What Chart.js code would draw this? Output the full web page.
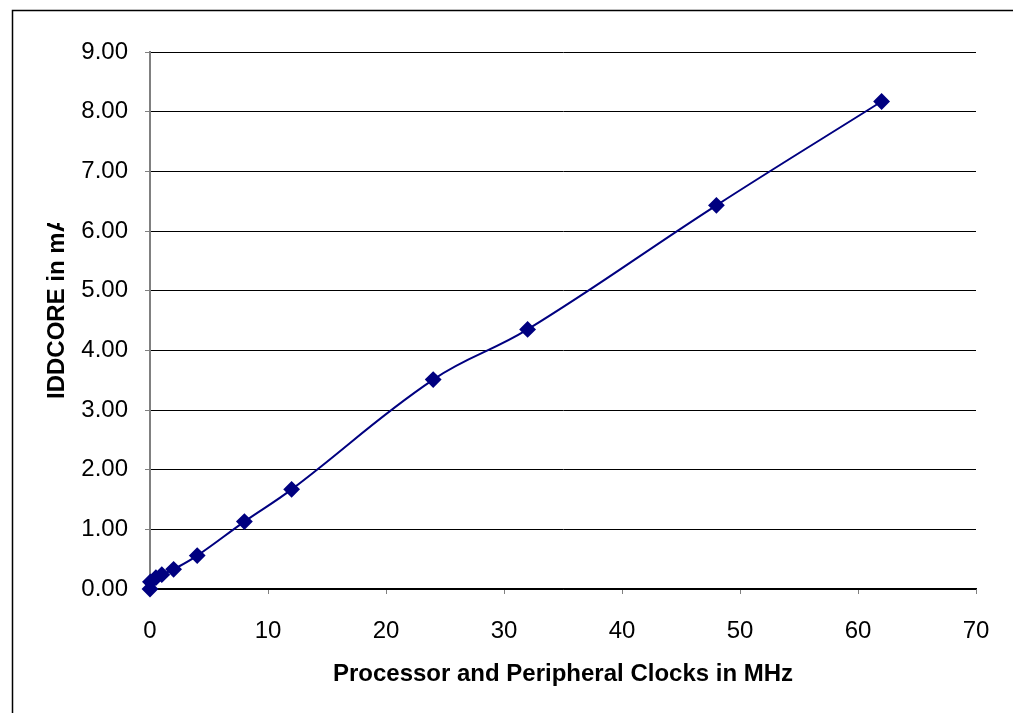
<!DOCTYPE html>
<html>
<head>
<meta charset="utf-8">
<script src="https://cdn.jsdelivr.net/npm/chart.js@4/dist/chart.umd.min.js"></script>
<style>
html,body{margin:0;padding:0;background:#fff;}
#wrap{width:1013px;height:713px;position:relative;}
</style>
</head>
<body>
<div id="wrap"><canvas id="c" width="1013" height="713"></canvas></div>
<script>
const clocksMHz = [0, 0.032, 0.5, 1, 2, 4, 8, 12, 24, 32, 48, 62];
const iddCoreMA = [0, 0.12, 0.19, 0.24, 0.33, 0.56, 1.13, 1.67, 3.51, 4.35, 6.43, 8.17];
const xTitle = 'Processor and Peripheral Clocks in MHz';
const yTitle = 'IDDCORE in mA';
const FONT = '"Liberation Sans", Arial, sans-serif';

const points = clocksMHz.map((x, i) => ({x: x, y: iddCoreMA[i]}));

const framePlugin = {
  id: 'frame',
  afterDraw(chart) {
    const ctx = chart.ctx;
    ctx.save();
    ctx.strokeStyle = '#000';
    ctx.lineWidth = 1.5;
    ctx.strokeRect(12.5, 10.5, 1200, 900);
    // y axis title, clipped at top like the reference
    ctx.beginPath();
    ctx.rect(0, 223, 120, 500);
    ctx.clip();
    ctx.translate(57, 307);
    ctx.rotate(-Math.PI / 2);
    ctx.font = 'bold 24px ' + FONT;
    ctx.fillStyle = '#000';
    ctx.textAlign = 'center';
    ctx.textBaseline = 'middle';
    ctx.fillText(yTitle, 0, 0);
    ctx.restore();
  }
};

new Chart(document.getElementById('c'), {
  type: 'scatter',
  data: {
    datasets: [{
      data: points,
      showLine: true,
      tension: 0.4,
      clip: false,
      borderColor: '#000080',
      backgroundColor: '#000080',
      borderWidth: 2,
      pointStyle: 'rectRot',
      pointRadius: 7,
      pointHoverRadius: 7
    }]
  },
  options: {
    responsive: false,
    animation: false,
    layout: {padding: {left: 0, top: 52, right: 37, bottom: 0}},
    plugins: {legend: {display: false}, tooltip: {enabled: false}},
    scales: {
      x: {
        type: 'linear',
        min: 0, max: 70,
        afterFit(s) { s.height = 124; },
        ticks: {stepSize: 10, color: '#000', padding: 23, maxRotation: 0,
                font: {family: FONT, size: 24}},
        grid: {drawOnChartArea: false, drawTicks: true, tickLength: 5, tickColor: '#808080'},
        border: {color: '#000', width: 1.5},
        title: {display: true, text: xTitle, color: '#000',
                font: {family: FONT, size: 24, weight: 'bold'},
                padding: {top: 0, bottom: 24}}
      },
      y: {
        min: 0, max: 9,
        afterFit(s) { s.width = 150; },
        ticks: {stepSize: 1, color: '#000', padding: 17,
                font: {family: FONT, size: 24},
                callback: v => Number(v).toFixed(2)},
        grid: {color: '#000', lineWidth: 1, tickLength: 5, tickColor: '#808080'},
        border: {color: '#808080', width: 2}
      }
    }
  },
  plugins: [framePlugin]
});
</script>
</body>
</html>
